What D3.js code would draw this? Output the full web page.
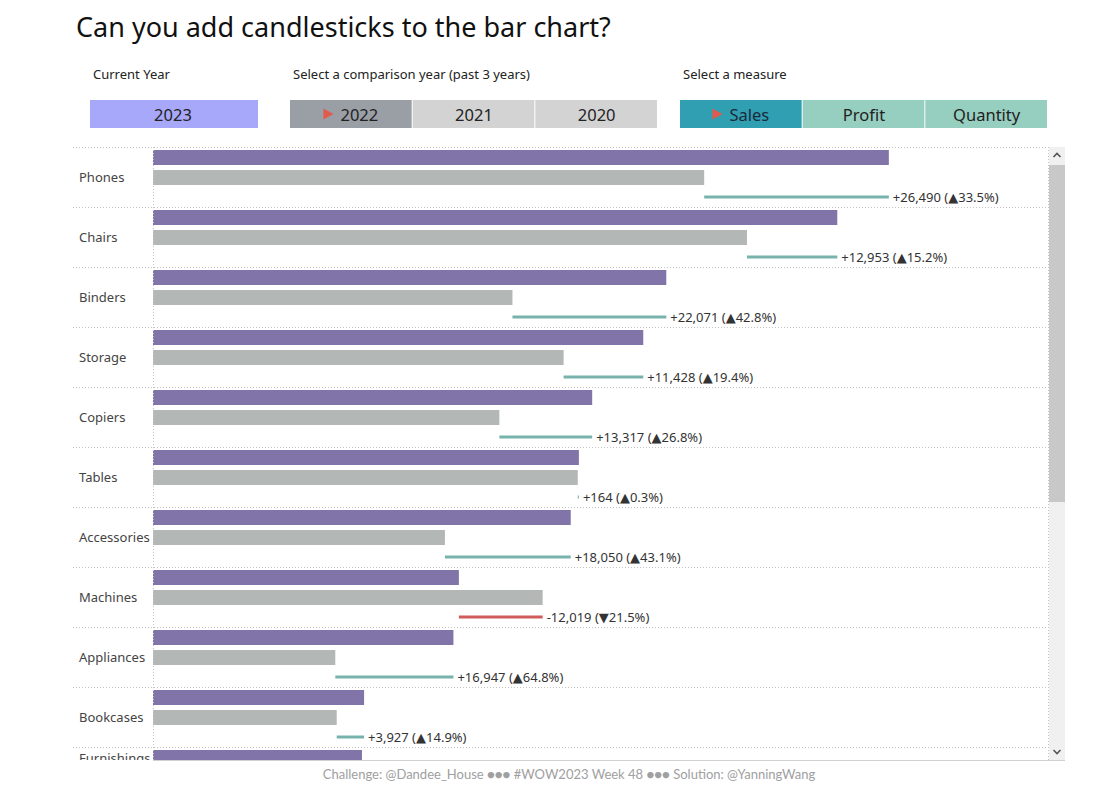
<!DOCTYPE html>
<html>
<head>
<meta charset="utf-8">
<script src="https://cdn.jsdelivr.net/npm/d3@7"></script>
<style>
  html, body { margin: 0; padding: 0; background: #fff; }
  svg { display: block; }
</style>
</head>
<body>
<svg id="chart" width="1100" height="800"></svg>
<script>
// ---- Data ----
const categories = ["Phones","Chairs","Binders","Storage","Copiers","Tables","Accessories","Machines","Appliances","Bookcases","Furnishings"];
const currentYearValues = [105565, 98170, 73639, 70335, 63007, 61100, 59929, 43883, 43100, 30283, 29977];
const comparisonYearValues = [79075, 85217, 51568, 58907, 49690, 60936, 41879, 55902, 26153, 26356, 27874];
const diffLabels = ["+26,490 (▲33.5%)","+12,953 (▲15.2%)","+22,071 (▲42.8%)","+11,428 (▲19.4%)","+13,317 (▲26.8%)","+164 (▲0.3%)","+18,050 (▲43.1%)","-12,019 (▼21.5%)","+16,947 (▲64.8%)","+3,927 (▲14.9%)","+2,103 (▲7.5%)"];
const yearButtons = ["2022","2021","2020"];
const measureButtons = ["Sales","Profit","Quantity"];
const currentYear = "2023";
const xMax = 128400;

// ---- Layout ----
const svg = d3.select("#chart");
const font = "'Noto Sans', 'DejaVu Sans', sans-serif";
const lblFont = "'Noto Sans', 'DejaVu Sans', sans-serif";
const footFont = "Lato, 'Noto Sans', sans-serif";

const frame = { left: 73, axisX: 153, right: 1048, top: 147, bottom: 760 };
const rowH = 60;

// Title
svg.append("text").attr("x", 76).attr("y", 37)
  .attr("font-family", font).attr("font-size", 27).attr("fill", "#111")
  .text("Can you add candlesticks to the bar chart?");

// Control labels
const ctrlLbl = [["Current Year", 93], ["Select a comparison year (past 3 years)", 293], ["Select a measure", 683]];
svg.selectAll("text.ctrl").data(ctrlLbl).join("text").attr("class", "ctrl")
  .attr("x", d => d[1]).attr("y", 79)
  .attr("font-family", font).attr("font-size", 13).attr("fill", "#222")
  .text(d => d[0]);

// Current year box
svg.append("rect").attr("x", 90).attr("y", 100).attr("width", 168).attr("height", 28).attr("fill", "#a8a8fb");
svg.append("text").attr("x", 173).attr("y", 114).attr("text-anchor", "middle").attr("dominant-baseline", "central")
  .attr("font-family", font).attr("font-size", 16.5).attr("fill", "#222").text(currentYear);

function buttonGroup(items, x0, colors, textColor) {
  const bw = 122.67;
  const g = svg.append("g");
  items.forEach((t, i) => {
    const x = x0 + i * bw;
    g.append("rect").attr("x", x).attr("y", 100).attr("width", bw - 1).attr("height", 28).attr("fill", colors[i]);
    const cx = x + bw / 2;
    if (i === 0) {
      const tx = g.append("text").attr("x", cx + 8).attr("y", 114).attr("text-anchor", "middle").attr("dominant-baseline", "central")
        .attr("font-family", font).attr("font-size", 16.5).attr("fill", textColor[i]).text(t);
      const w = tx.node().getComputedTextLength();
      const left = cx + 8 - w / 2;
      g.append("path").attr("d", `M${left - 17},${108.5} L${left - 7},${114} L${left - 17},${119.5} Z`).attr("fill", "#e15a4e");
    } else {
      g.append("text").attr("x", cx).attr("y", 114).attr("text-anchor", "middle").attr("dominant-baseline", "central")
        .attr("font-family", font).attr("font-size", 16.5).attr("fill", textColor[i]).text(t);
    }
  });
}
buttonGroup(yearButtons, 290, ["#9a9ea5", "#d3d3d3", "#d3d3d3"], ["#222", "#222", "#222"]);
buttonGroup(measureButtons, 680, ["#2f9fb1", "#96cfbf", "#96cfbf"], ["#1b2a3a", "#222", "#222"]);

// Scales
const x = d3.scaleLinear().domain([0, xMax]).range([frame.axisX, frame.right]);
const y = d3.scaleBand().domain(categories).range([frame.top, frame.top + rowH * categories.length]).padding(0);

// Clip
svg.append("clipPath").attr("id", "clip").append("rect")
  .attr("x", frame.left).attr("y", frame.top).attr("width", frame.right - frame.left + 1).attr("height", frame.bottom - frame.top);

const rows = svg.append("g").attr("clip-path", "url(#clip)");
const data = categories.map((c, i) => ({ c, cur: currentYearValues[i], prev: comparisonYearValues[i], lbl: diffLabels[i] }));
// only marks inside the scroll viewport are drawn
const visible = (off) => data.filter(d => y(d.c) + off < frame.bottom);

// Separators
rows.selectAll("line.sep").data(visible(0).slice(1)).join("line").attr("class", "sep")
  .attr("x1", frame.left).attr("x2", frame.right)
  .attr("y1", d => y(d.c) + 0.5).attr("y2", d => y(d.c) + 0.5)
  .attr("stroke", "#c4c4c4").attr("stroke-dasharray", "1,2");

// Bars
rows.selectAll("rect.cur").data(visible(3)).join("rect").attr("class", "cur")
  .attr("x", x(0)).attr("y", d => y(d.c) + 3).attr("height", 15)
  .attr("width", d => x(d.cur) - x(0)).attr("fill", "#8074a8");
rows.selectAll("rect.prev").data(visible(23)).join("rect").attr("class", "prev")
  .attr("x", x(0)).attr("y", d => y(d.c) + 23).attr("height", 15)
  .attr("width", d => x(d.prev) - x(0)).attr("fill", "#b3b7b6");

// Candles
rows.selectAll("line.candle").data(visible(48)).join("line").attr("class", "candle")
  .attr("x1", d => x(d.prev)).attr("x2", d => x(d.cur))
  .attr("y1", d => y(d.c) + 50).attr("y2", d => y(d.c) + 50)
  .attr("stroke", d => d.cur >= d.prev ? "#77b3ac" : "#d05d5b").attr("stroke-width", 3);

rows.selectAll("text.diff").data(visible(58)).join("text").attr("class", "diff")
  .attr("x", d => x(Math.max(d.cur, d.prev)) + 4).attr("y", d => y(d.c) + 50)
  .attr("dominant-baseline", "central")
  .attr("font-family", lblFont).attr("font-size", 13).attr("fill", "#333")
  .text(d => d.lbl);

// Category labels
rows.selectAll("text.cat").data(visible(0)).join("text").attr("class", "cat")
  .attr("x", 79)
  .attr("y", d => {
    const t = Math.max(y(d.c), frame.top), b = Math.min(y(d.c) + rowH, frame.bottom);
    return b - t < rowH ? (t + b) / 2 + 4 : y(d.c) + 30;
  })
  .attr("dominant-baseline", "central")
  .attr("font-family", lblFont).attr("font-size", 13).attr("fill", "#444")
  .text(d => d.c);

// Frame lines
svg.append("line").attr("x1", frame.left).attr("x2", frame.right).attr("y1", frame.top + 0.5).attr("y2", frame.top + 0.5)
  .attr("stroke", "#c4c4c4").attr("stroke-dasharray", "1,2");
svg.append("line").attr("x1", frame.axisX + 0.5).attr("x2", frame.axisX + 0.5).attr("y1", frame.top).attr("y2", frame.bottom)
  .attr("stroke", "#c4c4c4").attr("stroke-dasharray", "1,2");
svg.append("line").attr("x1", frame.right + 0.5).attr("x2", frame.right + 0.5).attr("y1", frame.top).attr("y2", frame.bottom)
  .attr("stroke", "#c4c4c4").attr("stroke-dasharray", "1,2");
svg.append("line").attr("x1", frame.axisX).attr("x2", frame.right + 17).attr("y1", frame.bottom + 0.5).attr("y2", frame.bottom + 0.5)
  .attr("stroke", "#d0d0d0");

// Scrollbar
svg.append("rect").attr("x", 1049).attr("y", frame.top).attr("width", 16).attr("height", frame.bottom - frame.top).attr("fill", "#f0f0f0");
svg.append("rect").attr("x", 1049).attr("y", 165).attr("width", 16).attr("height", 337).attr("fill", "#c8c8c8");
svg.append("path").attr("d", "M1053.5,157 L1057,153.5 L1060.5,157").attr("fill", "none").attr("stroke", "#555").attr("stroke-width", 1.6);
svg.append("path").attr("d", "M1053.5,750 L1057,753.5 L1060.5,750").attr("fill", "none").attr("stroke", "#555").attr("stroke-width", 1.6);

// Footer
svg.append("text").attr("x", 569).attr("y", 779).attr("text-anchor", "middle")
  .attr("font-family", footFont).attr("font-size", 13).attr("fill", "#a0a0a0")
  .text("Challenge: @Dandee_House ●●● #WOW2023 Week 48 ●●● Solution: @YanningWang");
</script>
</body>
</html>
